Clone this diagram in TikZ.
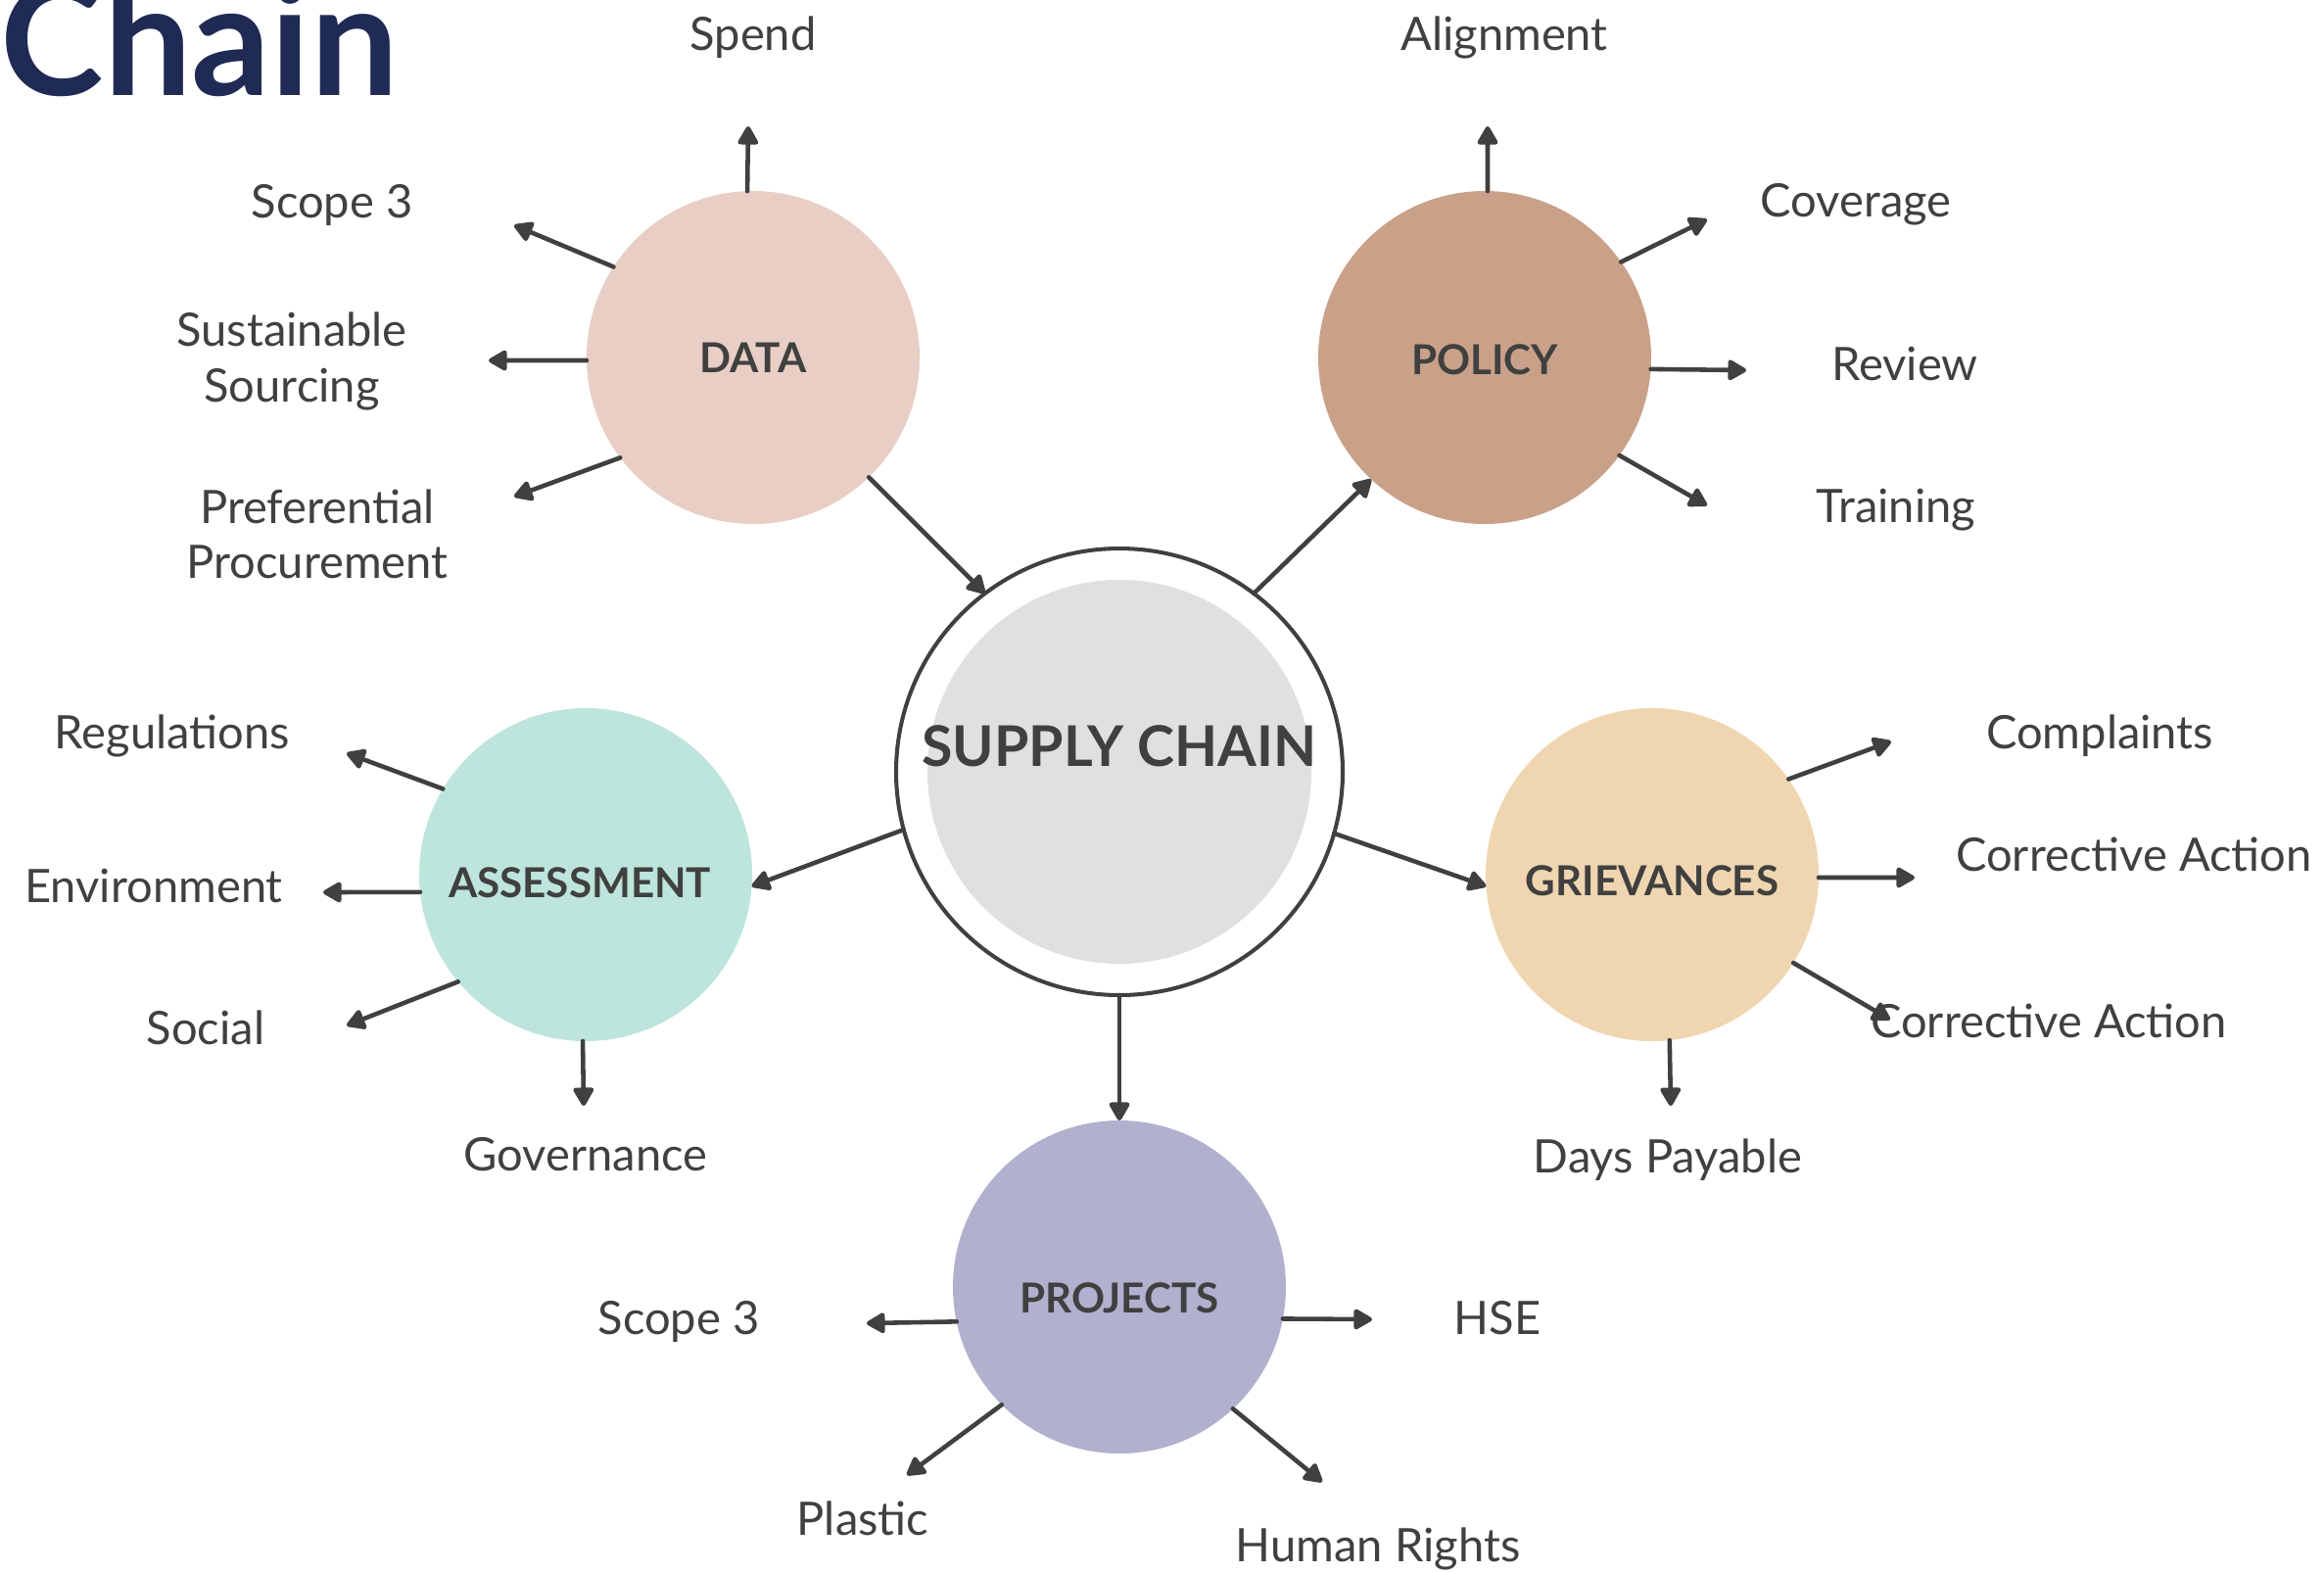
\documentclass[tikz,border=0pt]{standalone}
\usepackage{fontspec}
\setmainfont{Lato}
\usetikzlibrary{arrows.meta}
\definecolor{ink}{HTML}{404040}
\definecolor{navy}{HTML}{1F2A55}
\definecolor{datafill}{HTML}{E8CEC4}
\definecolor{policyfill}{HTML}{C9A189}
\definecolor{assessfill}{HTML}{BDE5DC}
\definecolor{grievfill}{HTML}{F0D6B0}
\definecolor{projfill}{HTML}{B1B0CE}
\definecolor{corefill}{HTML}{E0E0E0}
\begin{document}
\begin{tikzpicture}[>={Triangle[length=6pt,width=6.5pt,round]},
  arr/.style={->,draw=ink,line width=1.3pt,line cap=round},
  hub/.style={circle,minimum size=3.4cm,inner sep=0pt,outer sep=0pt,text=ink,font=\fontsize{12}{14}\selectfont\bfseries},
  sink/.style={text height=#1},
  lbl/.style={text=ink,align=center,font=\fontsize{13.4}{16}\selectfont}]
\useasboundingbox (0,0) rectangle (23.73,-16.04);
\node[anchor=base west,inner sep=0pt,text=navy,font=\fontsize{45.3}{48}\selectfont\bfseries] (title) at (0,-0.97) {Chain};

% centre
\node[circle,draw=ink,line width=1.15pt,fill=white,minimum size=4.56cm,inner sep=0pt,outer sep=0pt] (sc) at (11.43,-7.88) {};
\node[circle,fill=corefill,minimum size=3.92cm,inner sep=0pt] (core) at (sc) {};
\node[text=ink,font=\fontsize{16.3}{18}\selectfont\bfseries] (sctext) at (11.43,-7.62) {SUPPLY CHAIN};

% hubs
\node[hub,fill=datafill] (data) at (7.69,-3.65) {DATA};
\node[hub,fill=policyfill,sink=10pt] (policy) at (15.16,-3.65) {POLICY};
\node[hub,fill=assessfill,sink=13.7pt] (assess) at (5.98,-8.93) {ASSESSMENT\hspace*{0.12cm}};
\node[hub,fill=grievfill,sink=12.6pt] (griev) at (16.87,-8.93) {GRIEVANCES};
\node[hub,fill=projfill,sink=14.9pt] (proj) at (11.43,-13.14) {PROJECTS};

\draw[arr] (data.-46) -- (sc.127);
\draw[arr] (sc.53) -- (policy.227);
\draw[arr] (sc.195) -- (assess.-4);
\draw[arr] (sc.-16) -- (griev.184);
\draw[arr] (sc.-90) -- (proj.90);

% arrow tips
\coordinate (d1) at (7.64,-1.29);
\coordinate (d2) at (5.25,-2.30);
\coordinate (d3) at (4.99,-3.68);
\coordinate (d4) at (5.25,-5.07);
\coordinate (p1) at (15.19,-1.29);
\coordinate (p2) at (17.43,-2.24);
\coordinate (p3) at (17.83,-3.78);
\coordinate (p4) at (17.43,-5.16);
\coordinate (a1) at (3.54,-7.69);
\coordinate (a2) at (3.30,-9.11);
\coordinate (a3) at (3.54,-10.47);
\coordinate (a4) at (5.96,-11.29);
\coordinate (g1) at (19.31,-7.57);
\coordinate (g2) at (19.55,-8.96);
\coordinate (g3) at (19.30,-10.41);
\coordinate (g4) at (17.06,-11.29);
\coordinate (j1) at (8.85,-13.51);
\coordinate (j2) at (14.01,-13.47);
\coordinate (j3) at (9.26,-15.06);
\coordinate (j4) at (13.50,-15.13);

\foreach \a/\t in {92/d1,147/d2,181/d3,217/d4} \draw[arr] (data.\a) -- (\t);
\foreach \a/\t in {89/p1,35/p2,-4/p3,-36/p4} \draw[arr] (policy.\a) -- (\t);
\foreach \a/\t in {149/a1,186/a2,220/a3,-91/a4} \draw[arr] (assess.\a) -- (\t);
\foreach \a/\t in {35/g1,-1/g2,-32/g3,-84/g4} \draw[arr] (griev.\a) -- (\t);
\foreach \a/\t in {192/j1,-11/j2,225/j3,-47/j4} \draw[arr] (proj.\a) -- (\t);

% labels
\node[lbl] (spend) at (7.69,-0.38) {Spend};
\node[lbl] (scopeA) at (3.39,-2.09) {Scope 3};
\node[lbl] (sourcing) at (2.98,-3.69) {Sustainable\\Sourcing};
\node[lbl] (procure) at (3.24,-5.45) {Preferential\\Procurement};
\node[lbl] (align) at (15.36,-0.38) {Alignment};
\node[lbl] (cover) at (18.95,-2.09) {Coverage};
\node[lbl] (review) at (19.45,-3.71) {Review};
\node[lbl] (train) at (19.36,-5.21) {Training};
\node[lbl] (regs) at (1.76,-7.51) {Regulations};
\node[lbl] (env) at (1.57,-9.04) {Environment};
\node[lbl] (social) at (2.10,-10.49) {Social};
\node[lbl] (gov) at (5.98,-11.79) {Governance};
\node[lbl] (compl) at (21.44,-7.51) {Complaints};
\node[lbl] (corrA) at (21.79,-8.72) {Corrective Action};
\node[lbl] (corrB) at (20.92,-10.42) {Corrective Action};
\node[lbl] (days) at (17.03,-11.84) {Days Payable};
\node[lbl] (scopeB) at (6.93,-13.49) {Scope 3};
\node[lbl] (hse) at (15.29,-13.46) {HSE};
\node[lbl] (plastic) at (8.81,-15.50) {Plastic};
\node[lbl] (rights) at (14.07,-15.81) {Human Rights};
\end{tikzpicture}
\end{document}
